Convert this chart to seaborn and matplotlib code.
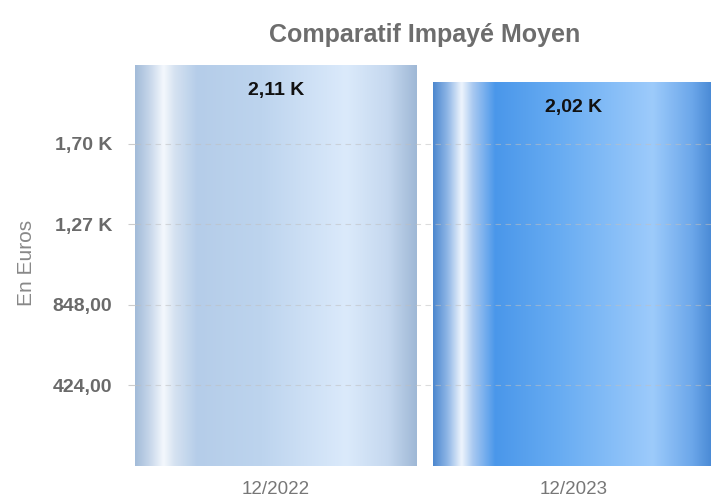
import numpy as np
import matplotlib
matplotlib.use("Agg")
import matplotlib.pyplot as plt
from matplotlib.colors import LinearSegmentedColormap
import seaborn as sns

categories = ["12/2022", "12/2023"]
values = [2110, 2020]
value_labels = ["2,11 K", "2,02 K"]
ytick_values = [424, 848, 1272, 1696]
ytick_labels = ["424,00", "848,00", "1,27 K", "1,70 K"]
title = "Comparatif Impayé Moyen"
ylabel = "En Euros"

gradients = [
    [(0.0, "#a3bcd9"), (0.05, "#c6d6ea"), (0.10, "#f4f8fd"), (0.14, "#d5e2f1"),
     (0.22, "#b5cde9"), (0.45, "#bdd4ee"), (0.75, "#dbeafb"), (0.90, "#c5d8ef"),
     (1.0, "#9fb8d6")],
    [(0.0, "#4d88cf"), (0.05, "#8fb6e6"), (0.10, "#eef5fd"), (0.14, "#a9c9f1"),
     (0.22, "#4a97ea"), (0.45, "#68acf2"), (0.78, "#9dcbfb"), (0.92, "#6ca7ea"),
     (1.0, "#4586d2")],
]

sns.set_theme(style="white")
plt.rcParams["font.family"] = ["Liberation Sans", "DejaVu Sans"]

W, H = 711, 499
fig = plt.figure(figsize=(W / 100, H / 100), dpi=100)
ytop = 2200
px_per_unit = 0.19
ax_h = ytop * px_per_unit
ax = fig.add_axes([135 / W, 33 / H, 576 / W, ax_h / H])

bar_w = 282 / 298
sns.barplot(x=categories, y=values, ax=ax, width=bar_w, color="#b5cde9",
            edgecolor="none", linewidth=0, zorder=1)

ax.set_ylim(0, ytop)
ax.set_xlim(-bar_w / 2, -bar_w / 2 + 576 / 298)

for patch, stops in zip(ax.patches, gradients):
    x0, y0 = patch.get_x(), patch.get_y()
    w, h = patch.get_width(), patch.get_height()
    cmap = LinearSegmentedColormap.from_list("g", stops)
    grad = np.linspace(0, 1, 512).reshape(1, -1)
    im = ax.imshow(grad, cmap=cmap, aspect="auto", extent=(x0, x0 + w, y0, y0 + h),
                   zorder=1.5, interpolation="bilinear")
    im.set_clip_path(patch)

ax.set_xlim(-bar_w / 2, -bar_w / 2 + 576 / 298)
ax.set_ylim(0, ytop)

for i, (v, lab) in enumerate(zip(values, value_labels)):
    ax.annotate(lab, xy=(i, v), xytext=(0, -18), textcoords="offset points",
                ha="center", va="center", fontsize=14, fontweight="bold",
                color="#111111", zorder=5)

ax.set_yticks(ytick_values)
ax.set_yticklabels(ytick_labels)
ax.yaxis.grid(True, linestyle=(0, (5, 4)), color="#c0c0c0", linewidth=0.8, alpha=0.55)
ax.set_axisbelow(False)
for lbl in ax.get_yticklabels():
    lbl.set_fontweight("bold")
ax.tick_params(axis="y", left=True, length=5, width=0.8, color="#cccccc",
               pad=11.5, labelsize=14, labelcolor="#6a6a6a")
ax.tick_params(axis="x", bottom=False, pad=5, labelsize=13.5, labelcolor="#777777")
for s in ax.spines.values():
    s.set_visible(False)

ax.set_xlabel("")
ax.set_ylabel(ylabel, fontsize=15, color="#888888")
ax.yaxis.set_label_coords(-(135 - 36) / 576, (466 - 263) / ax_h)

fig.text(425 / W, 1 - 35 / H, title, ha="center", va="center", fontsize=18,
         fontweight="bold", color="#6d6d6d")

fig.savefig("out.png", dpi=100, facecolor="white")
